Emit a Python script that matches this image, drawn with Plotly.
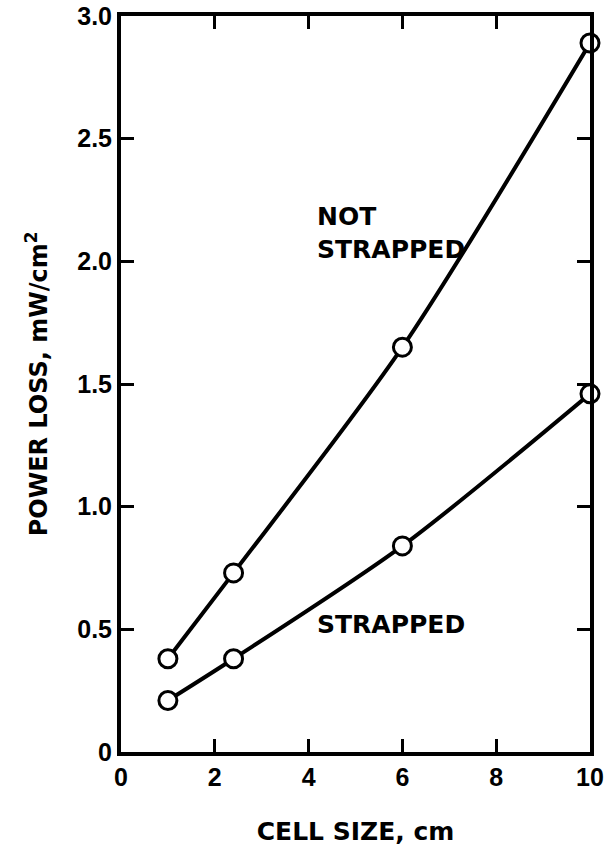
import plotly.graph_objects as go

cell_size = [1, 2.4, 6, 10]
not_strapped = [0.38, 0.73, 1.65, 2.89]
strapped = [0.21, 0.38, 0.84, 1.46]

x_ticks = [0, 2, 4, 6, 8, 10]
x_ticktext = ["0", "2", "4", "6", "8", "10"]
y_ticks = [0, 0.5, 1.0, 1.5, 2.0, 2.5, 3.0]
y_ticktext = ["0", "0.5", "1.0", "1.5", "2.0", "2.5", "3.0"]

TICKFONT = "Liberation Sans, Arial, Helvetica, sans-serif"
TEXTFONT = "DejaVu Sans, Liberation Sans, sans-serif"

fig = go.Figure()
for ys in (not_strapped, strapped):
    fig.add_trace(go.Scatter(
        x=cell_size, y=ys, mode="lines+markers",
        line=dict(color="black", width=4, shape="spline", smoothing=0.8),
        marker=dict(symbol="circle", size=18, color="white",
                    line=dict(color="black", width=3)),
        showlegend=False, cliponaxis=False,
    ))

fig.add_annotation(x=4.14, y=2.116, xref="x", yref="y", text="<b>NOT<br>STRAPPED</b>",
                   showarrow=False, xanchor="left", yanchor="middle", align="left",
                   font=dict(family=TEXTFONT, size=25, color="black"))
fig.add_annotation(x=4.14, y=0.518, xref="x", yref="y", text="<b>STRAPPED</b>",
                   showarrow=False, xanchor="left", yanchor="middle", align="left",
                   font=dict(family=TEXTFONT, size=25, color="black"))

axis_common = dict(
    showline=True, linecolor="black", linewidth=4, mirror="ticks",
    ticks="inside", ticklen=13, tickwidth=3, tickcolor="black",
    showgrid=False, zeroline=False, automargin=False,
    ticklabeloverflow="allow",
    tickfont=dict(family=TICKFONT, size=25, color="black"),
)

fig.update_xaxes(range=[0, 10], tickvals=x_ticks,
                 ticktext=["<b>%s</b>" % t for t in x_ticktext],
                 title=dict(text="<b>CELL SIZE, cm</b>", standoff=33,
                            font=dict(family=TEXTFONT, size=25, color="black")),
                 **axis_common)
fig.update_yaxes(range=[0, 3], tickvals=y_ticks,
                 ticktext=["<b>%s</b>" % t for t in y_ticktext],
                 title=dict(text="<b>POWER LOSS, mW/cm<sup>2</sup></b>", standoff=24,
                            font=dict(family=TEXTFONT, size=24, color="black")),
                 **axis_common)

fig.update_layout(
    width=609, height=852,
    margin=dict(l=121, r=19, t=16, b=100, autoexpand=False),
    paper_bgcolor="white", plot_bgcolor="white",
)

# remove the default page body margin so the figure sits at the window origin
fig.write_html("out.html", config={"displayModeBar": False},
               post_script="document.body.style.margin='0';")
